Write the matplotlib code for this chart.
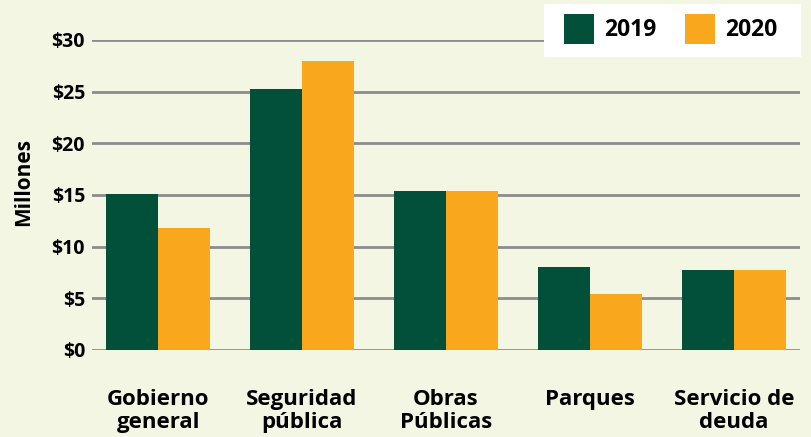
import matplotlib.pyplot as plt
import numpy as np
from matplotlib.patches import Rectangle

categories = ["Gobierno\ngeneral", "Seguridad\npública", "Obras\nPúblicas", "Parques", "Servicio de\ndeuda"]
values_2019 = [15.1, 25.3, 15.4, 8.0, 7.7]
values_2020 = [11.8, 28.0, 15.4, 5.4, 7.7]
yticks = [0, 5, 10, 15, 20, 25, 30]
ytick_labels = ["$0", "$5", "$10", "$15", "$20", "$25", "$30"]
series = ["2019", "2020"]

bg = "#F4F6E4"
green = "#03503A"
orange = "#F9A81E"

plt.rcParams['font.family'] = ['Open Sans', 'DejaVu Sans']
plt.rcParams['font.weight'] = 'bold'

W, H = 812, 437
fig = plt.figure(figsize=(W/100, H/100), dpi=100, facecolor=bg)
ax = fig.add_axes([92/W, 1 - 350/H, 708/W, 310/H])
ax.set_facecolor(bg)

x = np.arange(len(categories))
w = 0.36
ax.bar(x - w/2, values_2019, w, color=green, zorder=3)
ax.bar(x + w/2, values_2020, w, color=orange, zorder=3)

ax.set_xlim(-0.46, 4.46)
ax.set_ylim(0, 30)
ax.set_yticks(yticks)
ax.set_yticklabels(ytick_labels, fontsize=14, fontweight='bold')
ax.set_xticks(x)
ax.set_xticklabels(categories, fontsize=16, fontweight='bold', linespacing=1.12)
ax.tick_params(axis='y', length=0, pad=5)
ax.tick_params(axis='x', length=0, pad=28)
ax.grid(axis='y', color='#8C8C8C', linewidth=2, zorder=0)
ax.set_axisbelow(True)
for s in ax.spines.values():
    s.set_visible(False)

fig.text(24/W, 1 - 182/H, "Millones", rotation=90, fontsize=15, fontweight='bold',
         ha='center', va='center')

# legend box drawn by hand, pixel placement
def px(xp, yp):
    return xp/W, 1 - yp/H

fig.patches.append(Rectangle(px(544, 57), 257/W, 53/H, transform=fig.transFigure,
                             facecolor='white', edgecolor='none'))
for i, (lab, col) in enumerate(zip(series, [green, orange])):
    x0 = 564 + i*121
    fig.patches.append(Rectangle(px(x0, 44), 30/W, 30/H, transform=fig.transFigure,
                                 facecolor=col, edgecolor='none'))
    fig.text(*px(x0 + 40, 30), lab, fontsize=16.5, fontweight='bold', ha='left', va='center')

fig.savefig("out.png", dpi=100, facecolor=bg)
